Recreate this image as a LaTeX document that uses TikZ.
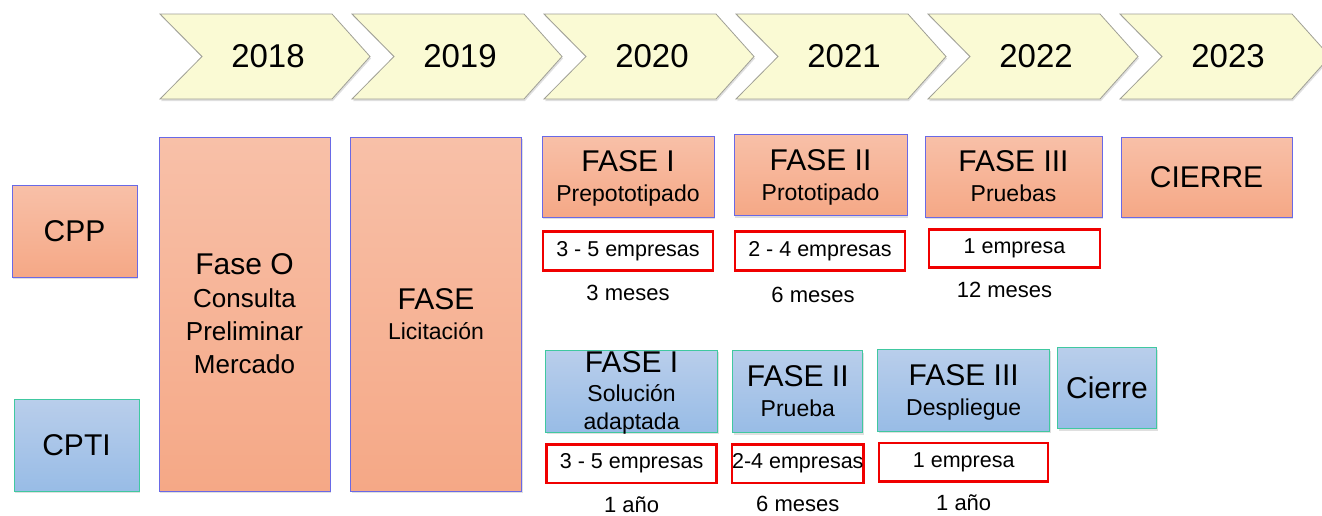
\documentclass[tikz,border=0pt]{standalone}
\usepackage{fontspec}
\setmainfont{Liberation Sans}
\usetikzlibrary{positioning,shadows}

\definecolor{amarillo}{RGB}{250,250,212}
\definecolor{grisborde}{RGB}{160,160,150}
\definecolor{naranjaA}{RGB}{248,192,168}
\definecolor{naranjaB}{RGB}{245,168,134}
\definecolor{bordeazul}{RGB}{105,105,230}
\definecolor{azulA}{RGB}{185,206,235}
\definecolor{azulB}{RGB}{152,188,230}
\definecolor{bordeverde}{RGB}{64,200,160}
\definecolor{rojo}{RGB}{240,0,0}

\newcommand{\tam}[2]{\fontsize{#1}{#2}\selectfont}
\newcommand{\chico}{\fontsize{23}{30}\selectfont}

\begin{document}
\begin{tikzpicture}[x=1pt, y=-1pt,
    sombra/.style={drop shadow={shadow xshift=1pt, shadow yshift=-2pt, opacity=.25}},
    chevron/.style={draw=grisborde, fill=amarillo, line width=0.8pt, sombra},
    anio/.style={font=\tam{33}{33}, inner sep=0pt},
    cpp/.style={draw=bordeazul, line width=0.8pt, top color=naranjaA, bottom color=naranjaB,
        inner sep=0pt, align=center, font=\tam{30}{30}, sombra},
    cpti/.style={draw=bordeverde, line width=0.8pt, top color=azulA, bottom color=azulB,
        inner sep=0pt, align=center, font=\tam{30}{30}, sombra},
    lineas/.style={text depth=-4pt},
    empresas/.style={draw=rojo, line width=2.5pt, fill=white, inner sep=0pt, font=\tam{21.5}{22}},
    dato/.style={font=\tam{22}{22}, inner sep=0pt}]

  % marco de la figura
  \useasboundingbox (0,0) rectangle (1322,515);

  % años
  \foreach \yr [count=\i from 0] in {2018,...,2023} {
    \draw[chevron] ({160+192*\i},14) -- ++(172,0) -- ++(38,42.5) -- ++(-38,42.5)
        -- ++(-172,0) -- ++(42,-42.5) -- cycle;
    \node[anio] (a\yr) at ({268+192*\i},56.5) {\yr};
  }

  % etiquetas de las filas
  \node[cpp, minimum width=125pt, minimum height=92pt] (cpp) at (74.5,231) {CPP};
  \node[cpti, minimum width=125pt, minimum height=92pt] (cpti) at (76.5,445) {CPTI};

  % fases comunes
  \node[cpp, lineas, minimum width=171pt, minimum height=354pt, font=\tam{30}{33}] (fase0) at (244.5,314)
      {Fase O\\{\tam{26}{33}Consulta}\\{\tam{26}{33}Preliminar}\\{\tam{26}{33}Mercado}};
  \node[cpp, lineas, minimum width=171pt, minimum height=354pt] (licit) at (436,314)
      {FASE\\{\chico Licitación}};

  % fila CPP
  \node[cpp, lineas, minimum width=172pt, minimum height=81pt] (p1) at (628,176.5)
      {FASE I\\{\chico Prepototipado}};
  \node[cpp, lineas, minimum width=173pt, minimum height=81pt] (p2) at (820.5,175)
      {FASE II\\{\chico Prototipado}};
  \node[cpp, lineas, minimum width=177pt, minimum height=81pt] (p3) at (1013.5,176.5)
      {FASE III\\{\chico Pruebas}};
  \node[cpp, minimum width=171pt, minimum height=80pt] (p4) at (1206.5,177) {CIERRE};

  \node[empresas, minimum width=170pt, minimum height=39pt] (e1) at (628,251) {3 - 5 empresas};
  \node[empresas, minimum width=170pt, minimum height=39pt] (e2) at (820,251) {2 - 4 empresas};
  \node[empresas, minimum width=171pt, minimum height=38pt] (e3) at (1014.5,248.7) {1 empresa};

  \node[dato, below=13pt of e1] (m1) {3 meses};
  \node[dato, below=15pt of e2, xshift=-7pt] (m2) {6 meses};
  \node[dato, below=13pt of e3, xshift=-10pt] (m3) {12 meses};

  % fila CPTI
  \node[cpti, lineas, minimum width=172pt, minimum height=82pt, font=\tam{30}{28.5}] (q1) at (631.6,391)
      {FASE I\\{\chico Solución}\\{\chico adaptada}};
  \node[cpti, lineas, minimum width=130pt, minimum height=82pt] (q2) at (797.8,391.5)
      {FASE II\\{\chico Prueba}};
  \node[cpti, lineas, minimum width=172pt, minimum height=82pt] (q3) at (963.7,390)
      {FASE III\\{\chico Despliegue}};
  \node[cpti, minimum width=99pt, minimum height=81pt] (q4) at (1107,388) {Cierre};

  \node[empresas, minimum width=170pt, minimum height=38.5pt] (f1) at (631.6,463.7) {3 - 5 empresas};
  \node[empresas, minimum width=127.5pt, minimum height=38.5pt] (f2) at (797.8,463.7) {2-4 empresas};
  \node[empresas, minimum width=169pt, minimum height=38.5pt] (f3) at (963.7,462) {1 empresa};

  \node[dato, below=12pt of f1] (n1) {1 año};
  \node[dato, below=12pt of f2] (n2) {6 meses};
  \node[dato, below=12pt of f3] (n3) {1 año};
\end{tikzpicture}
\end{document}
